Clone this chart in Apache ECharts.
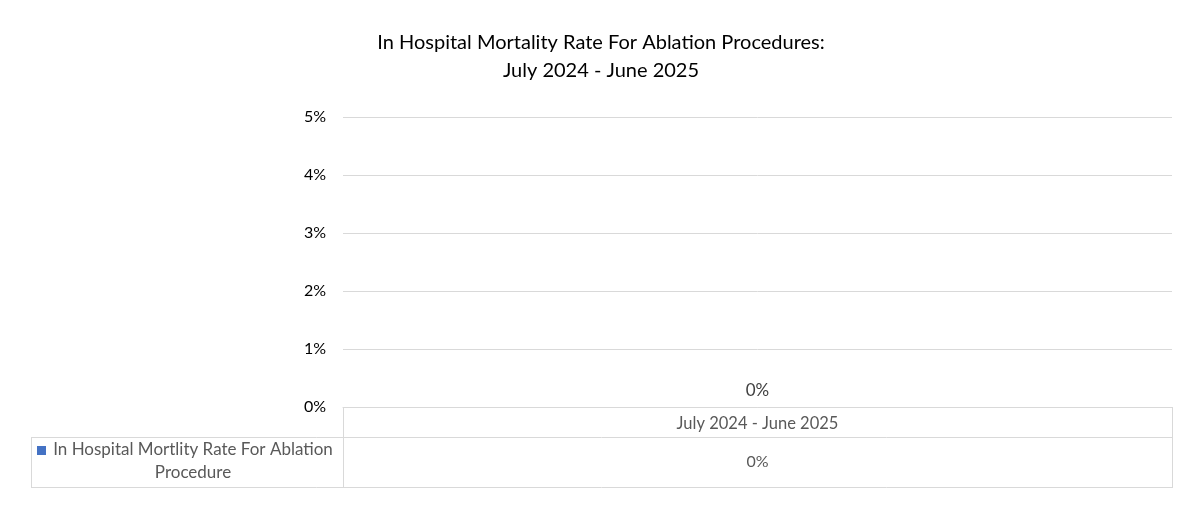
<!DOCTYPE html>
<html lang="en">
<head>
    <meta charset="UTF-8">
    <title>In Hospital Mortality Rate For Ablation Procedures</title>
    <style>
        html, body { margin: 0; padding: 0; background: #fff; }
        #main { width: 1180px; height: 532px; }
    </style>
</head>
<body>
    <div id="main"></div>
    <script src="https://cdn.jsdelivr.net/npm/echarts@6/dist/echarts.min.js"></script>
    <script>
        // chart data
        const categories = ['July 2024 - June 2025'];
        const seriesName = 'In Hospital Mortlity Rate For Ablation Procedure';
        const rates = [0];
        const yTicks = [0, 1, 2, 3, 4, 5];

        const FONT = 'Lato';
        const LINE = '#d9d9d9';

        let chart = echarts.init(document.getElementById('main'));

        let option = {
            animation: false,
            title: {
                text: 'In Hospital Mortality Rate For Ablation Procedures:\nJuly 2024 - June 2025',
                left: 596,
                top: 24,
                textAlign: 'center',
                textStyle: {
                    fontFamily: FONT,
                    fontSize: 20,
                    fontWeight: 'normal',
                    color: '#000',
                    lineHeight: 28
                }
            },
            grid: {
                left: 343,
                right: 8,
                top: 117,
                bottom: 125,
                containLabel: false
            },
            xAxis: {
                type: 'category',
                data: categories,
                axisLine: { show: true, lineStyle: { color: LINE } },
                axisTick: { show: false },
                axisLabel: {
                    margin: 8,
                    fontFamily: FONT,
                    fontSize: 16.5,
                    color: '#595959'
                }
            },
            yAxis: {
                type: 'value',
                min: yTicks[0],
                max: yTicks[yTicks.length - 1],
                interval: 1,
                axisLine: { show: false },
                axisTick: { show: false },
                splitLine: { lineStyle: { color: LINE } },
                axisLabel: {
                    formatter: '{value}%',
                    margin: 17,
                    fontFamily: FONT,
                    fontSize: 16,
                    color: '#000'
                }
            },
            series: [{
                name: seriesName,
                type: 'bar',
                data: rates,
                barWidth: '50%',
                itemStyle: { color: '#4472C4' },
                label: {
                    show: true,
                    position: 'top',
                    distance: 8,
                    formatter: p => p.value + '%',
                    fontFamily: FONT,
                    fontSize: 17,
                    color: '#404040'
                }
            }]
        };
        chart.setOption(option);

        // data table underneath the plot
        let graphics = [
            { type: 'line', shape: { x1: 31, y1: 437.5, x2: 1172, y2: 437.5 }, style: { stroke: LINE, lineWidth: 1 } },
            { type: 'line', shape: { x1: 31, y1: 487.5, x2: 1172, y2: 487.5 }, style: { stroke: LINE, lineWidth: 1 } },
            { type: 'line', shape: { x1: 31.5, y1: 437, x2: 31.5, y2: 488 }, style: { stroke: LINE, lineWidth: 1 } },
            { type: 'line', shape: { x1: 343.5, y1: 407, x2: 343.5, y2: 488 }, style: { stroke: LINE, lineWidth: 1 } },
            { type: 'line', shape: { x1: 1172.5, y1: 407, x2: 1172.5, y2: 488 }, style: { stroke: LINE, lineWidth: 1 } },
            { type: 'rect', shape: { x: 37, y: 446, width: 9, height: 9 }, style: { fill: '#4472C4' } },
            {
                type: 'text', x: 193, y: 461,
                style: {
                    text: 'In Hospital Mortlity Rate For Ablation\nProcedure',
                    fontFamily: FONT, fontSize: 17, lineHeight: 23,
                    fill: '#595959', align: 'center', verticalAlign: 'middle'
                }
            }
        ];
        rates.forEach(function (v, i) {
            graphics.push({
                type: 'text',
                x: chart.convertToPixel({ xAxisIndex: 0 }, categories[i]),
                y: 462,
                style: {
                    text: v + '%', fontFamily: FONT, fontSize: 16,
                    fill: '#595959', align: 'center', verticalAlign: 'middle'
                }
            });
        });
        chart.setOption({ graphic: graphics });
    </script>
</body>
</html>
